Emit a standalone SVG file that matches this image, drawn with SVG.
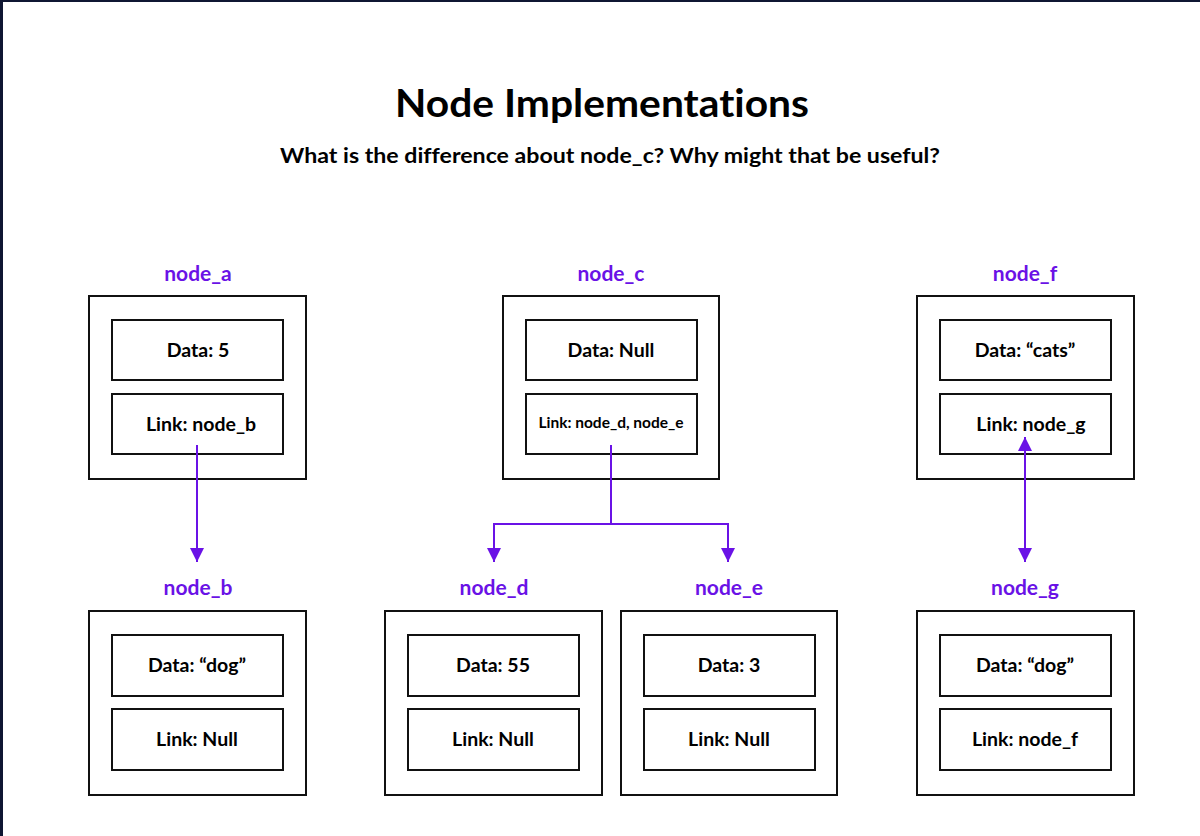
<svg xmlns="http://www.w3.org/2000/svg" width="1200" height="836" viewBox="0 0 1200 836">
  <style>
    text { font-variant-ligatures: none; }
    .outer { fill: #ffffff; stroke: #111111; stroke-width: 2; }
    .inner { fill: #ffffff; stroke: #111111; stroke-width: 2; }
    .title { font-family: "Lato", "Liberation Sans", sans-serif; font-weight: 700; font-size: 39px; fill: #000000; text-anchor: middle; }
    .subtitle { font-family: "Lato", "Liberation Sans", sans-serif; font-weight: 700; font-size: 20px; fill: #000000; text-anchor: middle; }
    .name { font-family: "Lato", "Liberation Sans", sans-serif; font-weight: 700; font-size: 21px; fill: #6a12e6; text-anchor: middle; }
    .field { font-family: "Lato", "Liberation Sans", sans-serif; font-weight: 700; font-size: 19.5px; fill: #000000; text-anchor: middle; }
    .field-sm { font-family: "Lato", "Liberation Sans", sans-serif; font-weight: 700; font-size: 15.5px; fill: #000000; text-anchor: middle; }
    .wire { fill: none; stroke: #6a12e6; stroke-width: 2; }
  </style>
  <defs>
    <marker id="head" viewBox="0 0 14 14" refX="14" refY="7" markerWidth="14" markerHeight="14" markerUnits="userSpaceOnUse" orient="auto-start-reverse">
      <path d="M0,0 L14,7 L0,14 Z" fill="#6a12e6"/>
    </marker>
  </defs>

  <rect x="0" y="0" width="1200" height="836" fill="#ffffff"/>
  <!-- window frame edges -->
  <rect x="0" y="0" width="1200" height="2" fill="#0f1632"/>
  <rect x="0" y="0" width="3" height="836" fill="#0f1632"/>

  <text class="title" x="602" y="117" textLength="414" lengthAdjust="spacingAndGlyphs">Node Implementations</text>
  <text class="subtitle" x="610" y="163" textLength="660" lengthAdjust="spacingAndGlyphs">What is the difference about node_c? Why might that be useful?</text>

  <g id="node_a">
    <text class="name" x="198" y="281">node_a</text>
    <rect class="outer" x="89" y="296" width="217" height="183"/>
    <rect class="inner" x="112" y="320" width="171" height="60"/>
    <text class="field" x="198" y="357">Data: 5</text>
    <rect class="inner" x="112" y="394" width="171" height="60"/>
    <text class="field" x="201" y="431">Link: node_b</text>
  </g>

  <g id="node_c">
    <text class="name" x="611" y="281">node_c</text>
    <rect class="outer" x="503" y="296" width="216" height="183"/>
    <rect class="inner" x="526" y="320" width="171" height="60"/>
    <text class="field" x="611" y="357">Data: Null</text>
    <rect class="inner" x="526" y="394" width="171" height="60"/>
    <text class="field-sm" x="611" y="428">Link: node_d, node_e</text>
  </g>

  <g id="node_f">
    <text class="name" x="1025" y="281">node_f</text>
    <rect class="outer" x="917" y="296" width="217" height="183"/>
    <rect class="inner" x="940" y="320" width="171" height="60"/>
    <text class="field" x="1025" y="357">Data: “cats”</text>
    <rect class="inner" x="940" y="394" width="171" height="60"/>
    <text class="field" x="1031" y="431">Link: node_g</text>
  </g>

  <g id="node_b">
    <text class="name" x="198" y="595">node_b</text>
    <rect class="outer" x="89" y="611" width="217" height="184"/>
    <rect class="inner" x="112" y="635" width="171" height="61"/>
    <text class="field" x="197" y="672">Data: “dog”</text>
    <rect class="inner" x="112" y="709" width="171" height="61"/>
    <text class="field" x="197" y="746">Link: Null</text>
  </g>

  <g id="node_d">
    <text class="name" x="494" y="595">node_d</text>
    <rect class="outer" x="385" y="611" width="217" height="184"/>
    <rect class="inner" x="408" y="635" width="171" height="61"/>
    <text class="field" x="493" y="672">Data: 55</text>
    <rect class="inner" x="408" y="709" width="171" height="61"/>
    <text class="field" x="493" y="746">Link: Null</text>
  </g>

  <g id="node_e">
    <text class="name" x="729" y="595">node_e</text>
    <rect class="outer" x="621" y="611" width="216" height="184"/>
    <rect class="inner" x="644" y="635" width="171" height="61"/>
    <text class="field" x="729" y="672">Data: 3</text>
    <rect class="inner" x="644" y="709" width="171" height="61"/>
    <text class="field" x="729" y="746">Link: Null</text>
  </g>

  <g id="node_g">
    <text class="name" x="1025" y="595">node_g</text>
    <rect class="outer" x="917" y="611" width="217" height="184"/>
    <rect class="inner" x="940" y="635" width="171" height="61"/>
    <text class="field" x="1025" y="672">Data: “dog”</text>
    <rect class="inner" x="940" y="709" width="171" height="61"/>
    <text class="field" x="1025" y="746">Link: node_f</text>
  </g>

  <g id="connectors">
    <path class="wire" d="M197,445 V562" marker-end="url(#head)"/>
    <path class="wire" d="M611,445 V524"/>
    <path class="wire" d="M611,524 H494 V562" marker-end="url(#head)"/>
    <path class="wire" d="M611,524 H728 V562" marker-end="url(#head)"/>
    <path class="wire" d="M1025,437 V562" marker-start="url(#head)" marker-end="url(#head)"/>
  </g>
</svg>
